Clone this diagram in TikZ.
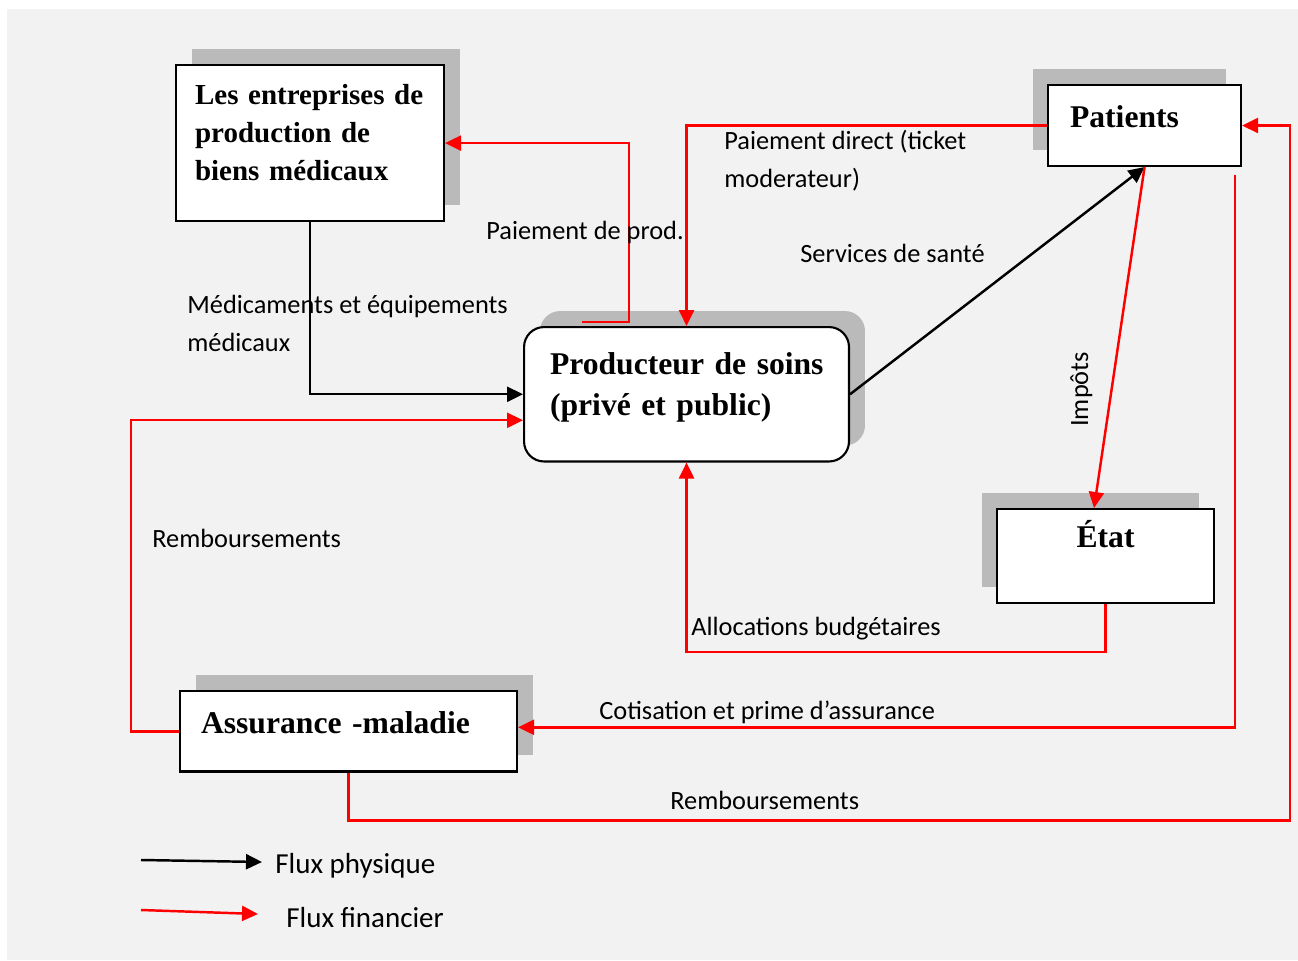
\documentclass[tikz,border=0pt]{standalone}
\usepackage{fontspec}
\setmainfont{Liberation Serif}
\newfontfamily\calfont{Carlito}
\usetikzlibrary{arrows.meta,shadows}
\definecolor{bggray}{HTML}{F2F2F2}
\definecolor{shgray}{HTML}{BABABA}

\begin{document}
\begin{tikzpicture}[x=0.02cm,y=-0.02cm,
actor/.style={draw=black,line width=1.2pt,fill=white,anchor=north west,align=left,
font=\fontsize{18}{23.2}\selectfont\bfseries},
shR/.style={drop shadow={shadow xshift=0.32cm,shadow yshift=0.32cm,fill=shgray,opacity=1}},
shL/.style={drop shadow={shadow xshift=-0.3cm,shadow yshift=0.32cm,fill=shgray,opacity=1}},
phys/.style={-{Triangle[length=3.2mm,width=3mm]},line width=1.4pt,draw=black},
fin/.style={-{Triangle[length=3.2mm,width=3mm]},line width=1.4pt,draw=red},
lbl/.style={font=\calfont\fontsize{15}{21.5}\selectfont,anchor=base west,align=left,inner sep=0pt},
legend/.style={font=\calfont\fontsize{16.5}{20}\selectfont,anchor=base west,inner sep=0pt}]
\useasboundingbox (0,0) rectangle (1298,960);
\fill[white] (0,0) rectangle (1298,960);
\fill[bggray] (7,9) rectangle (1298,960);
\node[actor,shR,text width=4.6cm,inner xsep=0.38cm,inner ysep=0.38cm,text depth=1.96cm,
font=\fontsize{16.5}{21.8}\selectfont\bfseries] (ent) at (175,64) {\mbox{Les entreprises de}\\production de\\biens médicaux};
\node[actor,shR,rounded corners=0.4cm,text width=5.46cm,inner xsep=0.52cm,inner ysep=0.51cm,text depth=1.23cm] (prod) at (523,326) {\mbox{Producteur de soins}\\(privé et public)};
\node[actor,shL,text width=2.98cm,inner xsep=0.44cm,inner ysep=0.42cm,text depth=0.34cm] (pat) at (1047,84) {Patients};
\node[actor,shL,align=center,text width=3.74cm,inner xsep=0.3cm,inner ysep=0.22cm,text depth=0.9cm] (eta) at (996,508) {État};
\node[actor,shR,text width=5.9cm,inner xsep=0.42cm,inner ysep=0.4cm,text depth=0.37cm] (ass) at (179,690) {Assurance -maladie};
\coordinate (rc) at ([xshift=0.96cm]pat.east);
\draw[phys] (ent.south) |- (prod.west);
\draw[fin] ([xshift=-2.09cm,yshift=0.08cm]prod.north) -- ++(47,0) |- (ent.east);
\draw[fin] (pat.west) -| (prod.north);
\draw[phys] (prod.east) -- (pat.south);
\draw[fin] (pat.south) -- ([xshift=-0.23cm]eta.north);
\draw[fin] (eta.south) -- ++(0,48) -| (prod.south);
\draw[fin] ([xshift=-0.14cm,yshift=-0.16cm]pat.south east) |- ([yshift=0.08cm]ass.east);
\draw[fin] (ass.south) -- ++(0,48) -| (rc) -- (pat.east);
\draw[fin] (ass.west) -- ++(-48,0) |- ([yshift=-0.52cm]prod.west);
\node[lbl] (lprod) at (486,239) {Paiement de prod.};
\node[lbl] (lmed) at (187,351) {Médicaments et équipements\\médicaux};
\node[lbl] (ldir) at (724,187) {Paiement direct (ticket\\moderateur)};
\node[lbl] (lserv) at (800,262) {Services de santé};
\node[lbl,rotate=90] (limp) at (1088,427) {Impôts};
\node[lbl] (lremb) at (152,547) {Remboursements};
\node[lbl] (lalloc) at (691,635) {Allocations budgétaires};
\node[lbl] (lcotis) at (599,719) {Cotisation et prime d’assurance};
\node[lbl] (lremb2) at (670,809) {Remboursements};
\coordinate (lp1) at (141,860);
\coordinate (lp2) at (262,862);
\coordinate (lf1) at (141,910);
\coordinate (lf2) at (258,914);
\draw[phys] (lp1) -- (lp2);
\draw[fin] (lf1) -- (lf2);
\node[legend] (lphys) at (275,873) {Flux physique};
\node[legend] (lfin) at (286,927) {Flux financier};
\end{tikzpicture}
\end{document}
